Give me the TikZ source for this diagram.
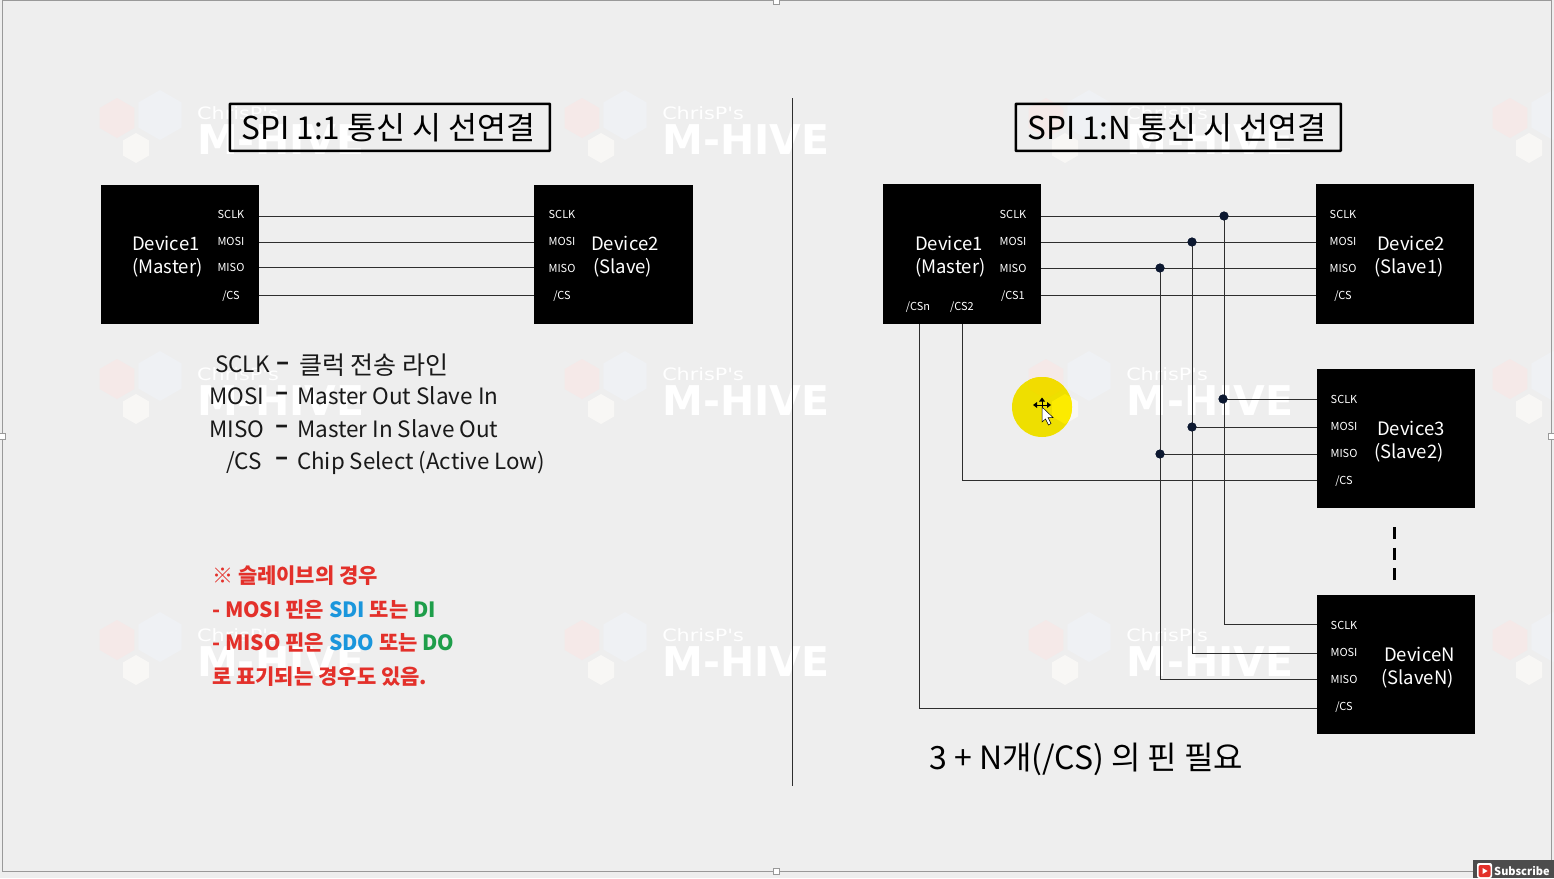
\documentclass[tikz,border=0pt]{standalone}
\usepackage{fontspec}
\setmainfont{Noto Sans CJK KR}
\newfontfamily\wmfont{DejaVu Sans}
\usetikzlibrary{calc}
\definecolor{bgc}{HTML}{EEEEEE}
\definecolor{wirec}{HTML}{2E2E2E}
\definecolor{redc}{HTML}{E3302A}
\definecolor{bluec}{HTML}{1A96DC}
\definecolor{greenc}{HTML}{1E9E4A}
\definecolor{hexp}{HTML}{F5E9E8}
\definecolor{hexb}{HTML}{EFF1F4}
\definecolor{hexw}{HTML}{F8F7F5}
\definecolor{dotc}{HTML}{0C1830}
\definecolor{yela}{HTML}{EEDF00}
\definecolor{yelb}{HTML}{FCEB00}
\definecolor{yelc}{HTML}{F2DC00}
\newcommand{\fsz}[1]{\fontsize{#1}{#1}\selectfont}
\newcommand{\hexa}[4]{\fill[#4] (#1,#2) ++(90:#3) -- ++(-30:#3) -- ++(-90:#3) -- ++(-150:#3) -- ++(150:#3) -- ++(90:#3) -- cycle;}
\tikzset{
  x=1pt,y=-1pt,
  devbox/.style={fill=black,draw=none,inner sep=0pt,anchor=north west},
  pinlab/.style={text=white,inner sep=0pt,font=\fsz{11}},
  devlab/.style={text=white,inner sep=0pt,font=\fsz{18.5},anchor=west},
  wire/.style={draw=wirec,line width=0.9pt},
  junction/.style={circle,fill=dotc,draw=none,minimum size=9pt,inner sep=0pt},
  titlebox/.style={draw=black,line width=2.6pt,rounded corners=0.5pt,inner sep=0pt,anchor=north west},
  bodytext/.style={inner sep=0pt,anchor=west,font=\fsz{22.5},text=black!90},
  redtext/.style={inner sep=0pt,anchor=west,font=\fsz{21}\bfseries,text=redc},
  wmsmall/.style={inner sep=0pt,anchor=west,text=white,font=\wmfont\fsz{17},xscale=1.22},
  wmbig/.style={inner sep=0pt,anchor=west,text=white,font=\wmfont\bfseries\fsz{41}},
}
\begin{document}
\begin{tikzpicture}
\useasboundingbox (0,0) rectangle (1554,878);
\fill[bgc] (0,0) rectangle (1554,878);
% watermark
\begin{scope}
\clip (0,0) rectangle (1554,878);
\foreach \tx in {197,662,1126,1590}{
  \foreach \ty in {113,374,635}{
    \hexa{\tx-80}{\ty+5}{20}{hexp}
    \hexa{\tx-37}{\ty+2}{25}{hexb}
    \hexa{\tx-61}{\ty+35}{15}{hexw}
    \node[wmsmall] (wa\tx\ty) at (\tx,\ty) {ChrisP's};
    \node[wmbig] (wb\tx\ty) at (\tx,\ty+27) {M-HIVE};
  }
}
\end{scope}
% frame
\draw[gray!80,line width=0.7pt] (2,0) -- (2,871) -- (1551,871) -- (1551,0) -- cycle;
\foreach \hx/\hy in {776/1,2/436,1551/436,776/871}{
  \fill[white,draw=gray!80,line width=0.5pt] (\hx-3,\hy-3) rectangle (\hx+3,\hy+3);
}
% divider
\node[inner sep=0pt,minimum size=0pt] (divtop) at (792.5,98) {};
\node[inner sep=0pt,minimum size=0pt] (divbot) at (792.5,786) {};
\draw[wirec,line width=1pt] (divtop) -- (divbot);
% titles
\node[titlebox,minimum width=320pt,minimum height=47pt] (t1) at (228.5,102.5) {};
\node[inner sep=0pt,font=\fsz{31.5}] (t1t) at (388.5,128) {SPI 1:1 통신 시 선연결};
\node[titlebox,minimum width=325pt,minimum height=47pt] (t2) at (1014.5,102.5) {};
\node[inner sep=0pt,font=\fsz{31.5}] (t2t) at (1177,128) {SPI 1:N 통신 시 선연결};
% boxes
\node[devbox,minimum width=158pt,minimum height=139pt] (d1) at (101,185) {};
\node[devbox,minimum width=159pt,minimum height=139pt] (d2) at (534,185) {};
\node[devbox,minimum width=158pt,minimum height=140pt] (m) at (883,184) {};
\node[devbox,minimum width=158pt,minimum height=140pt] (s1) at (1316,184) {};
\node[devbox,minimum width=158pt,minimum height=139pt] (s2) at (1317,369) {};
\node[devbox,minimum width=158pt,minimum height=139pt] (sn) at (1317,595) {};
% left wires
\foreach \wy in {216,242,267,295}{
  \draw[wire] (d1.east |- 0,\wy) -- (d2.west |- 0,\wy);
}
% right vertical junctions
\node[junction] (j1a) at (1224,216) {};
\node[junction] (j2a) at (1192,242) {};
\node[junction] (j3a) at (1160,268) {};
\node[junction] (j1b) at (1223,399) {};
\node[junction] (j2b) at (1192,427) {};
\node[junction] (j3b) at (1160,454) {};
\coordinate (c1) at (1224,624);
\coordinate (c2) at (1192,653);
\coordinate (c3) at (1160,679);
\coordinate (c4) at (962,480.5);
\coordinate (c5) at (919,708);
\draw[wire] (m.east |- 0,216) -- (s1.west |- 0,216);
\draw[wire] (m.east |- 0,242) -- (s1.west |- 0,242);
\draw[wire] (m.east |- 0,268) -- (s1.west |- 0,268);
\draw[wire] (m.east |- 0,295) -- (s1.west |- 0,295);
\draw[wire] (j1a.center) -- (c1) -- (sn.west |- c1);
\draw[wire] (j2a.center) -- (c2) -- (sn.west |- c2);
\draw[wire] (j3a.center) -- (c3) -- (sn.west |- c3);
\draw[wire] (j1b.center) -- (s2.west |- j1b);
\draw[wire] (j2b.center) -- (s2.west |- j2b);
\draw[wire] (j3b.center) -- (s2.west |- j3b);
\draw[wire] (m.south -| c4) -- (c4) -- (s2.west |- c4);
\draw[wire] (m.south -| c5) -- (c5) -- (sn.west |- c5);
% junction dots above wires
\foreach \jx/\jy in {1224/216,1192/242,1160/268,1223/399,1192/427,1160/454}{
  \fill[dotc] (\jx,\jy) circle (4.5pt);
}
% dashed continuation
\node[inner sep=0pt,minimum size=0pt] (dtop) at (1394,527) {};
\node[inner sep=0pt,minimum size=0pt] (dbot) at (1394,581) {};
\draw[black,line width=3pt,dash pattern=on 12pt off 8.5pt] (dtop) -- (dbot);
% pin labels
\newcommand{\pins}[7]{%
  \node[pinlab] (#1a) at (#2,#3) {SCLK};
  \node[pinlab] (#1b) at (#2,#4) {MOSI};
  \node[pinlab] (#1c) at (#2,#5) {MISO};
  \node[pinlab] (#1d) at (#2,#6) {#7};}
\pins{pa}{231}{214}{241}{267}{296}{/CS}
\pins{pb}{562}{214}{241}{268}{296}{/CS}
\pins{pc}{1013}{214}{241}{268}{296}{/CS1}
\pins{pd}{1343}{214}{241}{268}{296}{/CS}
\pins{pe}{1344}{399}{426}{453}{481}{/CS}
\pins{pf}{1344}{625}{652}{679}{707}{/CS}
\node[pinlab] (csn) at (918,307) {/CSn};
\node[pinlab] (cs2) at (962,307) {/CS2};
% device labels
\node[devlab] (la1) at (132,243.5) {Device1};
\node[devlab] (la2) at (132,267.5) {(Master)};
\node[devlab] (lb1) at (591,243.5) {Device2};
\node[devlab] (lb2) at (593,267.5) {(Slave)};
\node[devlab] (lc1) at (915,243.5) {Device1};
\node[devlab] (lc2) at (915,267.5) {(Master)};
\node[devlab] (ld1) at (1377,243.5) {Device2};
\node[devlab] (ld2) at (1374,267.5) {(Slave1)};
\node[devlab] (le1) at (1377,428.5) {Device3};
\node[devlab] (le2) at (1374,452.5) {(Slave2)};
\node[devlab] (lf1) at (1384,654.5) {DeviceN};
\node[devlab] (lf2) at (1381,678.5) {(SlaveN)};
% description
\node[bodytext] (da) at (215,364) {SCLK};
\node[bodytext] (db) at (209,396) {MOSI};
\node[bodytext] (dc) at (209,429) {MISO};
\node[bodytext] (dd) at (226,463) {/CS};
\node[bodytext,font=\fsz{24}\bfseries] (ea) at (276,366) {–};
\node[bodytext,font=\fsz{24}\bfseries] (eb) at (275,396) {–};
\node[bodytext,font=\fsz{24}\bfseries] (ec) at (275,429) {–};
\node[bodytext,font=\fsz{24}\bfseries] (ed) at (275,461) {–};
\node[bodytext,font=\fsz{25}] (fa) at (299,365) {클럭 전송 라인};
\node[bodytext] (fb) at (297,396) {Master Out Slave In};
\node[bodytext] (fc) at (297,429) {Master In Slave Out};
\node[bodytext,font=\fsz{22.3}] (fd) at (297,463) {Chip Select (Active Low)};
% red note
\node[redtext] (ra) at (212,576) {※ 슬레이브의 경우};
\node[redtext] (rb) at (212,609) {- MOSI 핀은 \textcolor{bluec}{SDI} 또는 \textcolor{greenc}{DI}};
\node[redtext] (rc) at (212,642) {- MISO 핀은 \textcolor{bluec}{SDO} 또는 \textcolor{greenc}{DO}};
\node[redtext] (rd) at (212,677) {로 표기되는 경우도 있음.};
% footer
\node[inner sep=0pt,anchor=west,font=\fsz{32}] (ft) at (929,759) {3 + N개(/CS) 의 핀 필요};
% highlight and cursor
\fill[yela] (1042,407) circle (30pt);
\begin{scope}
\clip (1042,407) circle (30pt);
\hexa{1046}{379}{20}{yelc}
\hexa{1065}{409}{15}{yelb}
\end{scope}
\draw[black,line width=1pt] (1035,405) -- (1049,405) (1042,400) -- (1042,407);
\fill[black] (1042,397.5) -- (1039,401.5) -- (1045,401.5) -- cycle;
\fill[black] (1033,405) -- (1037,402) -- (1037,408) -- cycle;
\fill[black] (1051,405) -- (1047,402) -- (1047,408) -- cycle;
\draw[black,fill=white,line width=0.5pt] (1042,407) -- (1042,422) -- (1045.5,419) -- (1048.5,425) -- (1051,423.5) -- (1048,417.5) -- (1053,417.5) -- cycle;
% subscribe badge
\fill[black!70] (1473,860) rectangle (1554,878);
\fill[white,rounded corners=2pt] (1477,863) rectangle (1492,878);
\fill[redc,rounded corners=2pt] (1478.5,865) rectangle (1490.5,877);
\fill[white] (1482.5,868) -- (1487.5,871) -- (1482.5,874) -- cycle;
\node[inner sep=0pt,anchor=west,text=white,font=\fsz{11}\bfseries] (sub) at (1494,871) {Subscribe};
\end{tikzpicture}
\end{document}
